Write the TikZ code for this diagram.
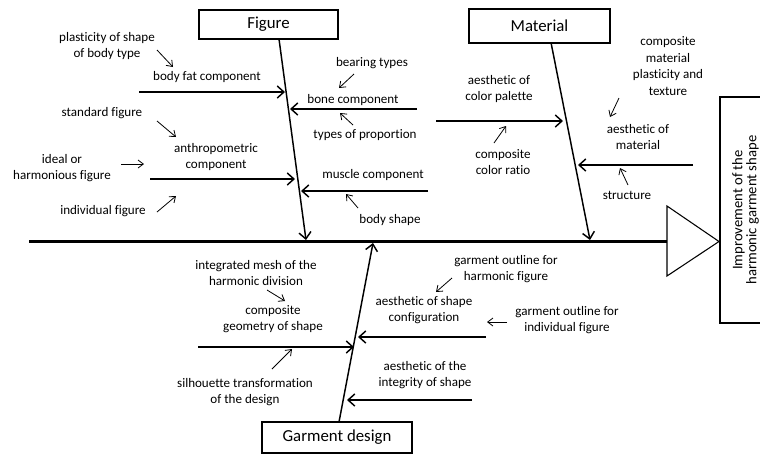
\documentclass[tikz,border=0pt]{standalone}
\usepackage{fontspec}
\setmainfont[Ligatures=CommonOff]{Carlito}
\usetikzlibrary{arrows.meta, positioning}

\begin{document}
\begin{tikzpicture}[
x=0.75pt, y=-0.75pt,
lbl/.style={align=center, font=\fontsize{9.8}{12.3}\selectfont, inner sep=0pt},
headbox/.style={rectangle, draw, line width=1.2pt, inner sep=0pt, font=\fontsize{12.6}{15}\selectfont},
spine/.style={line width=2.3pt},
bone/.style={line width=1.1pt, -{Straight Barb[length=5pt,width=9pt]}},
twig/.style={line width=1.1pt, -{Straight Barb[length=5pt,width=9pt]}},
hint/.style={line width=0.6pt, -{Straight Barb[length=4pt,width=6pt]}}
]
\useasboundingbox (0,0) rectangle (760,455);

% Boxes
\node[headbox, minimum width=104.25pt, minimum height=21.75pt] (figbox) at (268.5,24.5) {Figure};
\node[headbox, minimum width=105.75pt, minimum height=25.5pt] (matbox) at (539.5,26) {Material};
\node[headbox, minimum width=112.5pt, minimum height=23.25pt] (gdbox) at (337,437.5) {Garment design};
\node[rectangle, draw, line width=1.2pt, minimum width=45pt, minimum height=169.5pt] (resbox) at (750,210) {};
\node[rotate=90, align=center, inner sep=0pt, font=\fontsize{11}{10.5}\selectfont] (reslbl) at (745.5,210) {Improvement of the\\harmonic garment shape};

% Spine and head
\coordinate (tail) at (29,241.5);
\coordinate (headL) at (667,241.5);
\coordinate (headT) at (667,206);
\coordinate (headB) at (667,276);
\coordinate (tip) at (719,241.5);
\draw[spine] (tail) -- (headL);
\draw[line width=0.8pt] (headT) -- (tip) -- (headB) -- cycle;

% Main bones
\coordinate (figtop) at (279,39);
\coordinate (figend) at (306,240);
\coordinate (mattop) at (551,42.5);
\coordinate (matend) at (590,240);
\coordinate (gdbot) at (339,422);
\coordinate (gdend) at (373,243);
\draw[bone] (figtop) -- (figend);
\draw[bone] (mattop) -- (matend);
\draw[bone] (gdbot) -- (gdend);

% Figure causes
\coordinate (f1s) at (139,92);  \coordinate (f1e) at (285,92);
\coordinate (f2s) at (417,109); \coordinate (f2e) at (290,109);
\coordinate (f3s) at (150,179); \coordinate (f3e) at (295,179);
\coordinate (f4s) at (428,191); \coordinate (f4e) at (301,191);
\draw[twig] (f1s) -- (f1e);
\draw[twig] (f2s) -- (f2e);
\draw[twig] (f3s) -- (f3e);
\draw[twig] (f4s) -- (f4e);

\node[lbl] (plast) at (107,46) {plasticity of shape\\of body type};
\node[lbl] (fatlbl) at (207,77) {body fat component};
\node[lbl] (bearing) at (372,63) {bearing types};
\node[lbl] (bonelbl) at (353,100) {bone component};
\node[lbl] (typeprop) at (365,135) {types of proportion};
\node[lbl] (standard) at (102,113) {standard figure};
\node[lbl] (anthro) at (216,157) {anthropometric\\component};
\node[lbl] (ideal) at (62,168) {ideal or\\harmonious figure};
\node[lbl] (indiv) at (103,211) {individual figure};
\node[lbl] (musclelbl) at (373,175) {muscle component};
\node[lbl] (bodyshape) at (390,220) {body shape};

\coordinate (h1s) at (157,50);  \coordinate (h1e) at (173,67);
\coordinate (h2s) at (354,74);  \coordinate (h2e) at (339,88);
\coordinate (h3s) at (353,125); \coordinate (h3e) at (340,113);
\coordinate (h4s) at (157,121); \coordinate (h4e) at (176,137);
\coordinate (h5s) at (121,164); \coordinate (h5e) at (144,164);
\coordinate (h6s) at (157,212); \coordinate (h6e) at (176,196);
\coordinate (h7s) at (358,208); \coordinate (h7e) at (346,194);
\foreach \i in {1,...,7}
  \draw[hint] (h\i s) -- (h\i e);

% Material causes
\coordinate (m1s) at (436,121); \coordinate (m1e) at (563,121);
\coordinate (m2s) at (693,165); \coordinate (m2e) at (578,165);
\draw[twig] (m1s) -- (m1e);
\draw[twig] (m2s) -- (m2e);

\node[lbl] (palette) at (499,89) {aesthetic of\\color palette};
\node[lbl] (ratio) at (503,162) {composite\\color ratio};
\node[lbl] (plastex) at (668,66) {composite\\material\\plasticity and\\texture};
\node[lbl] (matlbl) at (638,137) {aesthetic of\\material};
\node[lbl] (structure) at (627,195) {structure};

\coordinate (k1s) at (494,143); \coordinate (k1e) at (506,126);
\coordinate (k2s) at (619,98);  \coordinate (k2e) at (610,117);
\coordinate (k3s) at (628,185); \coordinate (k3e) at (620,168);
\foreach \i in {1,2,3}
  \draw[hint] (k\i s) -- (k\i e);

% Garment design causes
\coordinate (g1s) at (198,347); \coordinate (g1e) at (354,347);
\coordinate (g2s) at (486,337); \coordinate (g2e) at (358,337);
\coordinate (g3s) at (472,400); \coordinate (g3e) at (347,400);
\draw[twig] (g1s) -- (g1e);
\draw[twig] (g2s) -- (g2e);
\draw[twig] (g3s) -- (g3e);

\node[lbl] (mesh) at (256,273) {integrated mesh of the\\harmonic division};
\node[lbl] (geom) at (273,319) {composite\\geometry of shape};
\node[lbl] (silh) at (245,392) {silhouette transformation\\of the design};
\node[lbl] (config) at (424,310) {aesthetic of shape\\configuration};
\node[lbl] (outharm) at (506,269) {garment outline for\\harmonic figure};
\node[lbl] (outind) at (567,320) {garment outline for\\individual figure};
\node[lbl] (integ) at (425,375) {aesthetic of the\\integrity of shape};

\coordinate (q1s) at (267,290); \coordinate (q1e) at (285,301);
\coordinate (q2s) at (272,369); \coordinate (q2e) at (292,349);
\coordinate (q3s) at (452,278); \coordinate (q3e) at (436,292);
\coordinate (q4s) at (507,322); \coordinate (q4e) at (487,322);
\foreach \i in {1,...,4}
  \draw[hint] (q\i s) -- (q\i e);
\end{tikzpicture}
\end{document}
